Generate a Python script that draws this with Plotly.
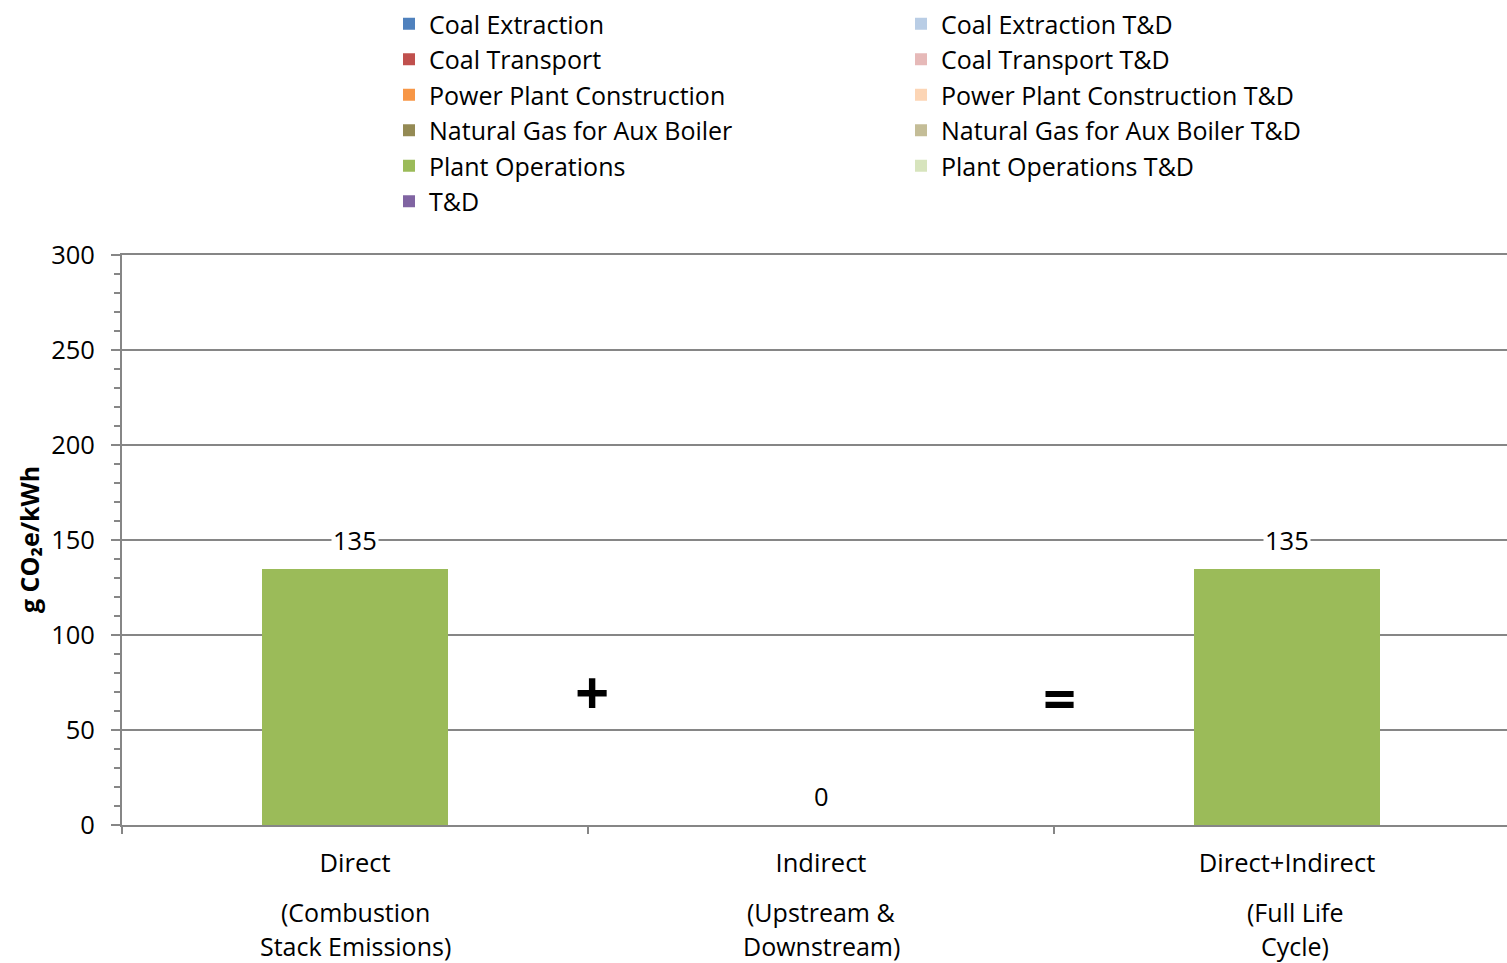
import plotly.graph_objects as go

# Categories along the x axis
categories = ["Direct", "Indirect", "Direct+Indirect"]
category_notes = [
    ["(Combustion", "Stack Emissions)"],
    ["(Upstream &", "Downstream)"],
    ["(Full Life", "Cycle)"],
]

# Emission components (g CO2e/kWh) per category
series_names = [
    "Coal Extraction", "Coal Transport", "Power Plant Construction",
    "Natural Gas for Aux Boiler", "Plant Operations", "T&D",
    "Coal Extraction T&D", "Coal Transport T&D", "Power Plant Construction T&D",
    "Natural Gas for Aux Boiler T&D", "Plant Operations T&D",
]
coal_extraction = [0, 0, 0]
coal_transport = [0, 0, 0]
plant_construction = [0, 0, 0]
natural_gas_aux = [0, 0, 0]
plant_operations = [135, 0, 135]
t_and_d = [0, 0, 0]
coal_extraction_td = [0, 0, 0]
coal_transport_td = [0, 0, 0]
plant_construction_td = [0, 0, 0]
natural_gas_aux_td = [0, 0, 0]
plant_operations_td = [0, 0, 0]

series_values = [
    coal_extraction, coal_transport, plant_construction, natural_gas_aux,
    plant_operations, t_and_d, coal_extraction_td, coal_transport_td,
    plant_construction_td, natural_gas_aux_td, plant_operations_td,
]
series_colors = [
    "#4F81BD", "#C0504D", "#F79646", "#948A54", "#9BBB59", "#8064A2",
    "#B9CDE5", "#E6B9B8", "#FCD5B5", "#C4BD97", "#D7E4BD",
]
series_legend = ["legend"] * 6 + ["legend2"] * 5

FONT = "Open Sans"
GRAY = "#868686"
TXT = 25.5

fig = go.Figure()
for name, vals, color, lg in zip(series_names, series_values, series_colors, series_legend):
    fig.add_trace(go.Bar(
        x=categories, y=vals, name=name,
        marker=dict(color=color, line=dict(width=0)),
        width=0.4, legend=lg,
    ))

totals = [sum(s[i] for s in series_values) for i in range(len(categories))]

# plot area in pixels, used to place text outside the axes
plot_left, plot_right = 122, 1507
plot_top, plot_bottom = 255, 825

def paper_y(px):
    return (plot_bottom - px) / (plot_bottom - plot_top)

def paper_x(px):
    return (px - plot_left) / (plot_right - plot_left)

annotations = []
# Total value labels above each stack
for i, t in enumerate(totals):
    annotations.append(dict(
        x=i, y=t, xref="x", yref="y", text=f"{t:g}", showarrow=False,
        yshift=29, font=dict(family=FONT, size=TXT, color="black"),
        bgcolor="white", borderpad=1,
    ))
# Secondary category descriptions under the tick labels
for i, lines in enumerate(category_notes):
    for j, line in enumerate(lines):
        annotations.append(dict(
            x=i, y=paper_y(912 + 34 * j), xref="x", yref="paper", yanchor="middle",
            text=line, showarrow=False, xshift=8 if i == 2 else 0,
            font=dict(family=FONT, size=25, color="black"),
        ))
# Operators between the categories
annotations.append(dict(x=0.5, y=70, xref="x", yref="y", text="<b>+</b>", showarrow=False,
                        xshift=4, font=dict(family=FONT, size=60, color="black")))
annotations.append(dict(x=1.5, y=67, xref="x", yref="y", text="<b>=</b>", showarrow=False,
                        xshift=5, font=dict(family=FONT, size=58, color="black")))
# Y axis title
annotations.append(dict(x=paper_x(29), y=paper_y(540), xref="paper", yref="paper",
                        xanchor="center", yanchor="middle", textangle=-90, showarrow=False,
                        text="<b>g CO₂e/kWh</b>", font=dict(family=FONT, size=25, color="black")))

legend_style = dict(
    xref="container", yref="container", xanchor="left", yanchor="top",
    font=dict(family=FONT, size=25), traceorder="normal", bgcolor="rgba(0,0,0,0)",
)

fig.update_layout(
    width=1507, height=963,
    margin=dict(l=plot_left, r=1507 - plot_right, t=plot_top, b=963 - plot_bottom, autoexpand=False),
    barmode="stack",
    plot_bgcolor="white", paper_bgcolor="white",
    font=dict(family=FONT, size=TXT, color="black"),
    showlegend=True,
    legend=dict(x=389 / 1507, y=1 - 1 / 963, **legend_style),
    legend2=dict(x=901 / 1507, y=1 - 1 / 963, **legend_style),
    annotations=annotations,
    xaxis=dict(
        type="category", range=[-0.5, 2.472],
        tickson="boundaries", ticks="outside", ticklen=7, tickwidth=2, tickcolor=GRAY,
        showline=True, linecolor=GRAY, linewidth=2, mirror=True,
        showgrid=False, zeroline=False,
        ticklabelstandoff=14, tickangle=0, tickfont=dict(family=FONT, size=TXT),
    ),
    yaxis=dict(
        range=[0, 300], dtick=50, ticks="outside", ticklen=9, tickwidth=2, tickcolor=GRAY,
        showline=True, linecolor=GRAY, linewidth=2,
        showgrid=True, gridcolor=GRAY, gridwidth=1.5, zeroline=False,
        minor=dict(dtick=10, ticks="outside", ticklen=6, tickwidth=2, tickcolor=GRAY, showgrid=False),
        tickfont=dict(family=FONT, size=TXT), ticklabelstandoff=11,
    ),
)

fig.write_html("out.html")
